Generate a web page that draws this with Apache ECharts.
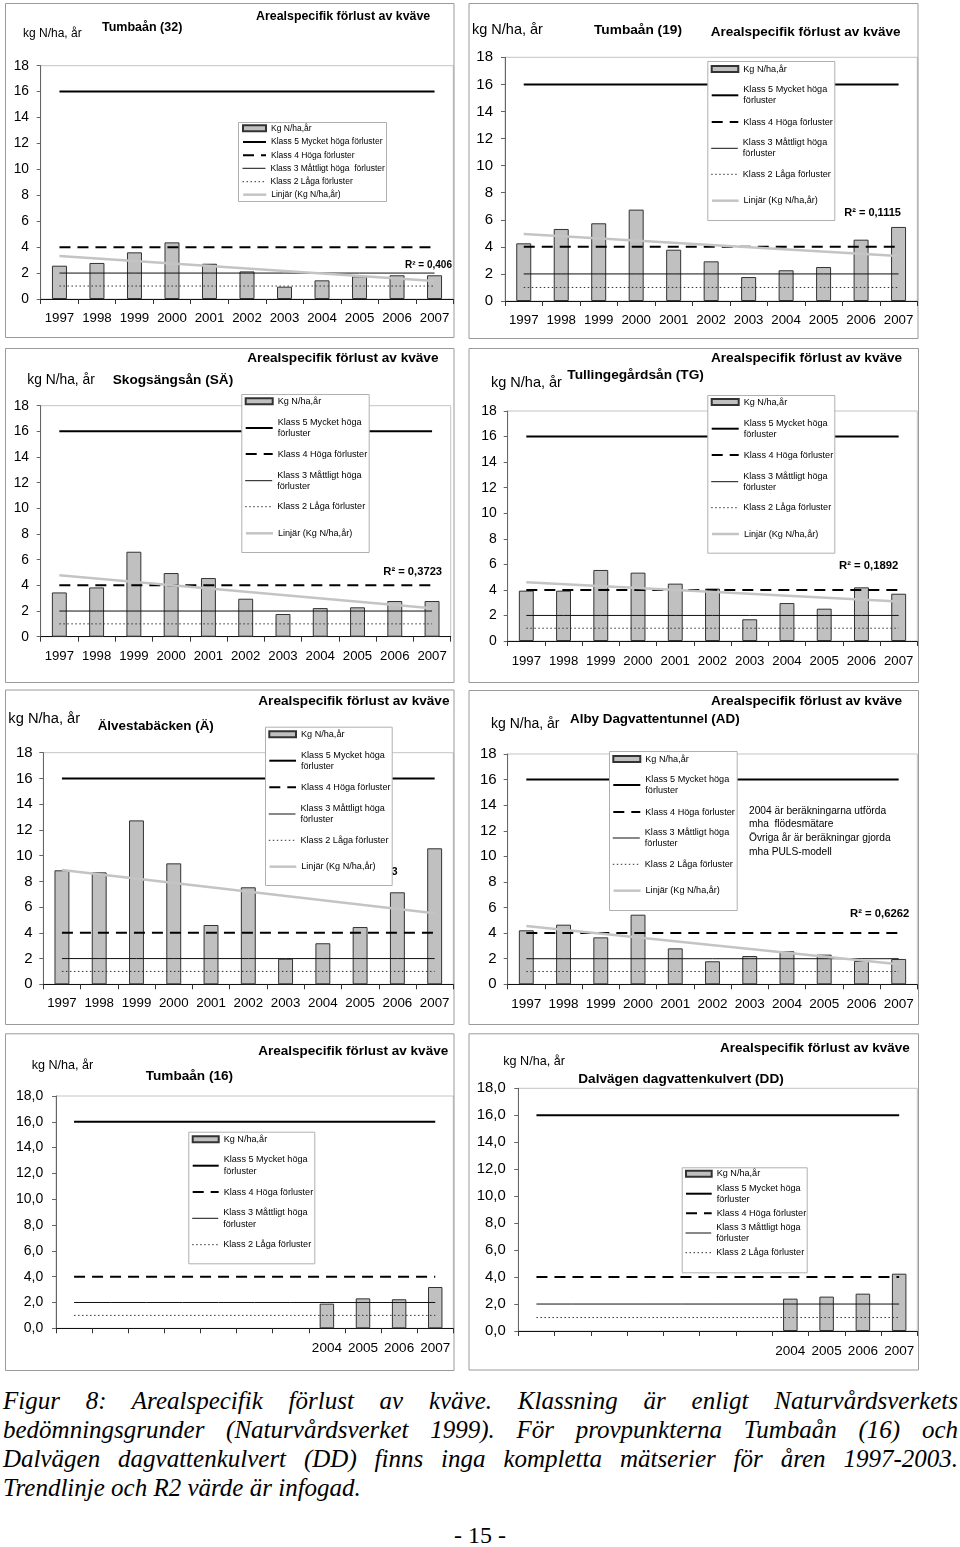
<!DOCTYPE html>
<html>
<head>
<meta charset="utf-8">
<script src="https://cdn.jsdelivr.net/npm/echarts@6/dist/echarts.min.js"></script>
<style>
html,body{margin:0;padding:0;background:#fff;}
#chart{position:absolute;left:0;top:0;width:960px;height:1380px;}
.cap{position:absolute;left:3px;width:955px;font-family:"Liberation Serif","Times New Roman",serif;font-style:italic;font-size:25px;line-height:29px;color:#000;}
.j{text-align:justify;text-align-last:justify;}
.pg{position:absolute;left:0;width:960px;text-align:center;font-family:"Liberation Serif","Times New Roman",serif;font-size:24px;line-height:29px;top:1521px;}
</style>
</head>
<body>
<div id="chart"></div>
<div class="cap j" style="top:1386px">Figur 8: Arealspecifik förlust av kväve. Klassning är enligt Naturvårdsverkets</div>
<div class="cap j" style="top:1415px">bedömningsgrunder (Naturvårdsverket 1999). För provpunkterna Tumbaån (16) och</div>
<div class="cap j" style="top:1444px">Dalvägen dagvattenkulvert (DD) finns inga kompletta mätserier för åren 1997-2003.</div>
<div class="cap" style="top:1473px">Trendlinje och R2 värde är infogad.</div>
<div class="pg">- 15 -</div>
<script>
// ---------------- DATA ----------------
const years = ['1997','1998','1999','2000','2001','2002','2003','2004','2005','2006','2007'];
const labelsFull = ['1997','1998','1999','2000','2001','2002','2003','2004','2005','2006','2007'];
const labelsLate = ['2004','2005','2006','2007'];
const yTicks = [0,2,4,6,8,10,12,14,16,18];

const tumba32      = [2.57,2.78,3.60,4.37,2.72,2.13,0.95,1.44,1.75,1.83,1.83];
const tumba32Trend = [3.32,1.39];
const tumba19      = [4.26,5.32,5.74,6.75,3.79,2.93,1.77,2.27,2.51,4.53,5.47];
const tumba19Trend = [4.95,3.33];
const skogs        = [3.45,3.84,6.62,4.96,4.57,2.96,1.77,2.23,2.29,2.78,2.78];
const skogsTrend   = [4.78,2.21];
const tulling      = [3.94,3.94,5.56,5.35,4.49,4.10,1.70,2.97,2.53,4.20,3.70];
const tullingTrend = [4.59,3.10];
const alvesta      = [8.86,8.70,12.74,9.40,4.61,7.54,1.99,3.19,4.45,7.15,10.57];
const alvestaTrend = [8.88,5.52];
const alby         = [4.22,4.66,3.67,5.44,2.81,1.80,2.21,2.58,2.32,1.82,1.98];
const albyTrend    = [4.56,1.56];
const tumba16      = [null,null,null,null,null,null,null,1.91,2.32,2.25,3.20];
const dalvagen     = [null,null,null,null,null,null,null,2.40,2.55,2.77,4.25];

const klass5 = [16,16,16,16,16,16,16,16,16,16,16];
const klass4 = [4,4,4,4,4,4,4,4,4,4,4];
const klass3 = [2,2,2,2,2,2,2,2,2,2,2];
const klass2 = [1,1,1,1,1,1,1,1,1,1,1];

const seriesNames = ['Kg N/ha,år','Klass 5 Mycket höga förluster','Klass 4 Höga förluster','Klass 3 Måttligt höga förluster','Klass 2 Låga förluster','Linjär (Kg N/ha,år)'];
const legendLabelsWide = ['Kg N/ha,år','Klass 5 Mycket höga förluster','Klass 4 Höga förluster','Klass 3 Måttligt höga  förluster','Klass 2 Låga förluster','Linjär (Kg N/ha,år)'];
const legendLabelsWrapped = ['Kg N/ha,år','Klass 5 Mycket höga\nförluster','Klass 4 Höga förluster','Klass 3 Måttligt höga\nförluster','Klass 2 Låga förluster','Linjär (Kg N/ha,år)'];

const chartTitle = 'Arealspecifik förlust av kväve';
const unitLabel = 'kg N/ha, år';
const albyNote = '2004 är beräkningarna utförda\nmha  flödesmätare\nÖvriga år är beräkningar gjorda\nmha PULS-modell';

const panelData = [
  {bars: tumba32,  trend: tumba32Trend, shown: labelsFull, name: 'Tumbaån (32)', r2: 'R² = 0,406', dec: false, wide: true},
  {bars: tumba19,  trend: tumba19Trend, shown: labelsFull, name: 'Tumbaån (19)', r2: 'R² = 0,1115', dec: false},
  {bars: skogs,    trend: skogsTrend,   shown: labelsFull, name: 'Skogsängsån (SÄ)', r2: 'R² = 0,3723', dec: false},
  {bars: tulling,  trend: tullingTrend, shown: labelsFull, name: 'Tullingegårdsån (TG)', r2: 'R² = 0,1892', dec: false},
  {bars: alvesta,  trend: alvestaTrend, shown: labelsFull, name: 'Älvestabäcken (Ä)', r2: 'R² = 0,1133', dec: false},
  {bars: alby,     trend: albyTrend,    shown: labelsFull, name: 'Alby Dagvattentunnel (AD)', r2: 'R² = 0,6262', dec: false, note: albyNote},
  {bars: tumba16,  trend: null,         shown: labelsLate, name: 'Tumbaån (16)', r2: null, dec: true},
  {bars: dalvagen, trend: null,         shown: labelsLate, name: 'Dalvägen dagvattenkulvert (DD)', r2: null, dec: true}
];

// ---------------- LAYOUT ----------------
const FONT = '"Liberation Sans", Arial, Helvetica, sans-serif';
const layout = [
  {frame:[5,3,453.5,337], grid:[40.7,65.7,412.6,233.3], yFont:13.8, yMargin:11.7, xFont:13.3, xMargin:13,
   areal:[256,17,12.4], name:[102,28,12.5], unit:[23,34,12], r2:{left:405,c:265.7,f:10},
   legBox:[238,122,386,201], legIcon:242, legText:270, legFont:8.5, legLH:10, legY:[128.3,142,155.3,168.3,181.7,194.7]},
  {frame:[468.5,3,917.5,338], grid:[505,57.3,412.3,243.7], yFont:15, yMargin:12, xFont:13.3, xMargin:12.5,
   areal:[710.7,32.3,13.5], name:[594,30.7,13.7], unit:[472,30,14.5], r2:{left:844.3,c:212.7,f:11},
   legBox:[707.3,61,834.3,220], legIcon:710.7, legText:742.3, legFont:9.1, legLH:11.3, legY:[69,95.3,122,148.3,174.3,200.7]},
  {frame:[5,348,453.5,682], grid:[40.7,405.7,410,231], yFont:13.8, yMargin:11.7, xFont:13.2, xMargin:13,
   areal:[247.3,358.3,13.6], name:[112.7,380.7,13.65], unit:[27.3,380,13.8], r2:{left:383.3,c:572.3,f:11.2},
   legBox:[241.3,394,368.7,552], legIcon:244.7, legText:276.7, legFont:9.1, legLH:11, legY:[401.3,428,454,480.7,506.7,533.3]},
  {frame:[468.5,348,918,682], grid:[507.7,411,409.6,230], yFont:14, yMargin:11, xFont:13.2, xMargin:13.5,
   areal:[711,358.3,13.6], name:[567.3,375.7,13.7], unit:[491,382.7,14.5], r2:{left:839,c:566,f:11.3},
   legBox:[707.3,395,834.3,552.7], legIcon:710.7, legText:742.7, legFont:9.1, legLH:11, legY:[402,428.7,455,481.7,507.7,534]},
  {frame:[5,689.5,453.5,1024], grid:[43.3,752.7,410,231.6], yFont:15, yMargin:10.6, xFont:13.3, xMargin:13,
   areal:[258.3,701.7,13.6], name:[97.7,726,13.4], unit:[8.3,719.3,14.7], r2:{right:960-397.5,c:872.3,f:11,under:true},
   legBox:[265,726.7,391.7,885], legIcon:268.3, legText:300, legFont:9.1, legLH:11, legY:[734.3,760.7,787.3,814,840.3,866.7]},
  {frame:[468.5,690,918,1024], grid:[507.7,754,409.6,230.3], yFont:15, yMargin:11, xFont:13.5, xMargin:13,
   areal:[711,701.7,13.6], name:[570,719.3,13.4], unit:[491,724,14], r2:{left:850,c:914,f:11.3},
   note:{left:749,top:803.9,f:10.2,lh:13.67},
   legBox:[609,751,736.7,910], legIcon:612.3, legText:644.3, legFont:9.1, legLH:11, legY:[759,785,812,838,864.3,890.7]},
  {frame:[5,1033.3,453.5,1370], grid:[56,1096,397.3,232.3], yFont:14, yMargin:12.7, xFont:13.5, xMargin:13,
   areal:[258.3,1051.7,13.5], name:[145.7,1076.7,13.6], unit:[31.7,1066,12.6],
   legBox:[188.3,1131.7,314.3,1263.3], legIcon:191.7, legText:222.7, legFont:9.1, legLH:11.5, legY:[1139.3,1165.7,1192,1218.3,1244.7]},
  {frame:[468.5,1033.3,918,1369.5], grid:[518.3,1088.3,399,242.7], yFont:14.9, yMargin:12.6, xFont:13.5, xMargin:13,
   areal:[720,1048.3,13.5], name:[578.3,1079.3,13.6], unit:[503.3,1061.7,12.6],
   legBox:[681.7,1167.3,806.7,1272.3], legIcon:685, legText:715.7, legFont:9.1, legLH:10.7, legY:[1173.7,1193.7,1213.3,1233,1252.7]}
];

// ---------------- STYLES ----------------
const barStyle = {color:'#c0c0c0', borderColor:'#333', borderWidth:1};
const lineStyles = [
  null,
  {color:'#000', width:2, type:'solid'},
  {color:'#000', width:2, type:[11,7]},
  {color:'#111', width:1, type:'solid'},
  {color:'#333', width:1, type:[1.5,2.5]},
  {color:'#c4c4c4', width:2.5, type:'solid'}
];
const hiddenSymbol = {color:'transparent', borderColor:'transparent', borderWidth:0, opacity:0};

// ---------------- OPTION ----------------
const option = {
  animation:false, backgroundColor:'#fff',
  grid:[], xAxis:[], yAxis:[], series:[], title:[], legend:[],
  graphic:{elements:[]}
};

function addText(text, x, c, f, bold, extra) {
  const t = Object.assign({
    text: text, left: x, top: c - f/2, padding: 0, z: 30,
    textStyle: {fontSize: f, lineHeight: f, fontWeight: bold ? 'bold' : 'normal', fontFamily: FONT, color: '#000'}
  }, extra || {});
  option.title.push(t);
}

layout.forEach(function (p, i) {
  const d = panelData[i];
  option.grid.push({left:p.grid[0], top:p.grid[1], width:p.grid[2], height:p.grid[3],
    show:true, borderColor:'#c4c4c4', borderWidth:1, backgroundColor:'transparent', containLabel:false});
  option.xAxis.push({
    type:'category', gridIndex:i, data:years, boundaryGap:true,
    axisLine:{show:true, lineStyle:{color:'#111', width:1}},
    axisTick:{show:true, interval:0, length:5, lineStyle:{color:'#333'}},
    splitLine:{show:false},
    axisLabel:{interval:0, fontSize:p.xFont, margin:p.xMargin, color:'#000', fontFamily:FONT,
      formatter:function(v){ return d.shown.indexOf(v) >= 0 ? v : ''; }}
  });
  option.yAxis.push({
    type:'value', gridIndex:i, min:yTicks[0], max:yTicks[yTicks.length-1], interval:yTicks[1]-yTicks[0],
    axisLine:{show:true, lineStyle:{color:'#666', width:1}},
    axisTick:{show:true, length:4, lineStyle:{color:'#666'}},
    splitLine:{show:false},
    axisLabel:{fontSize:p.yFont, margin:p.yMargin, color:'#000', fontFamily:FONT,
      formatter:function(v){ return d.dec ? v.toFixed(1).replace('.', ',') : String(v); }}
  });
  // bars
  option.series.push({type:'bar', name:seriesNames[0], xAxisIndex:i, yAxisIndex:i, data:d.bars,
    barWidth:'40%', itemStyle:barStyle, z:2});
  // class lines
  [klass5, klass4, klass3, klass2].forEach(function (arr, k) {
    option.series.push({type:'line', name:seriesNames[k+1], xAxisIndex:i, yAxisIndex:i, data:arr,
      symbol:'none', showSymbol:false, lineStyle:lineStyles[k+1], itemStyle:{color:lineStyles[k+1].color},
      z:3, silent:true});
  });
  // trend
  if (d.trend) {
    option.series.push({type:'line', name:seriesNames[5], xAxisIndex:i, yAxisIndex:i,
      data:[[years[0], d.trend[0]], [years[years.length-1], d.trend[1]]],
      symbol:'none', showSymbol:false, lineStyle:lineStyles[5], itemStyle:{color:lineStyles[5].color},
      z:4, silent:true});
  }
  // frame
  option.graphic.elements.push({type:'rect', z:0, silent:true,
    shape:{x:p.frame[0]+0.5, y:p.frame[1]+0.5, width:p.frame[2]-p.frame[0], height:p.frame[3]-p.frame[1]},
    style:{fill:'none', stroke:'#9a9a9a', lineWidth:1}});
  // legend box
  option.graphic.elements.push({type:'rect', z:10, silent:true,
    shape:{x:p.legBox[0]+0.5, y:p.legBox[1]+0.5, width:p.legBox[2]-p.legBox[0], height:p.legBox[3]-p.legBox[1]},
    style:{fill:'#fff', stroke:'#b0b0b0', lineWidth:1}});
  // legend items
  const labels = d.wide ? legendLabelsWide : legendLabelsWrapped;
  const nItems = d.trend ? 6 : 5;
  for (let k = 0; k < nItems; k++) {
    const lab = labels[k];
    const two = lab.indexOf('\n') >= 0;
    const lh = p.legLH;
    const leg = {
      data:[k === 0 ? {name:seriesNames[k], icon:'rect'} : {name:seriesNames[k]}],
      left:p.legIcon, top: two ? p.legY[k] - 1.5*lh : p.legY[k] - lh/2,
      padding:0, itemGap:0, z:20, selectedMode:false,
      itemWidth: p.legText - p.legIcon - 5, itemHeight: 6,
      formatter: (function(s){ return function(){ return s; }; })(lab),
      textStyle:{fontSize:p.legFont, lineHeight:lh, fontFamily:FONT, color:'#000', padding: two ? [lh,0,0,0] : 0}
    };
    if (k > 0) {
      leg.itemStyle = hiddenSymbol;
      leg.lineStyle = {color:lineStyles[k].color, width:lineStyles[k].width, type:lineStyles[k].type};
    }
    option.legend.push(leg);
  }
  // texts
  addText(chartTitle, p.areal[0], p.areal[1], p.areal[2], true);
  addText(d.name, p.name[0], p.name[1], p.name[2], true);
  addText(unitLabel, p.unit[0], p.unit[1], p.unit[2], false);
  if (d.r2) {
    if (p.r2.under) {
      option.title.push({text:d.r2, right:p.r2.right, top:p.r2.c - p.r2.f/2, padding:0, z:1,
        textStyle:{fontSize:p.r2.f, lineHeight:p.r2.f, fontWeight:'bold', fontFamily:FONT, color:'#000'}});
    } else {
      addText(d.r2, p.r2.left, p.r2.c, p.r2.f, true);
    }
  }
  if (d.note && p.note) {
    option.title.push({text:d.note, left:p.note.left, top:p.note.top, padding:0, z:30,
      textStyle:{fontSize:p.note.f, lineHeight:p.note.lh, fontWeight:'normal', fontFamily:FONT, color:'#000'}});
  }
});

const chart = echarts.init(document.getElementById('chart'), null, {renderer:'canvas'});
chart.setOption(option);
</script>
</body>
</html>
